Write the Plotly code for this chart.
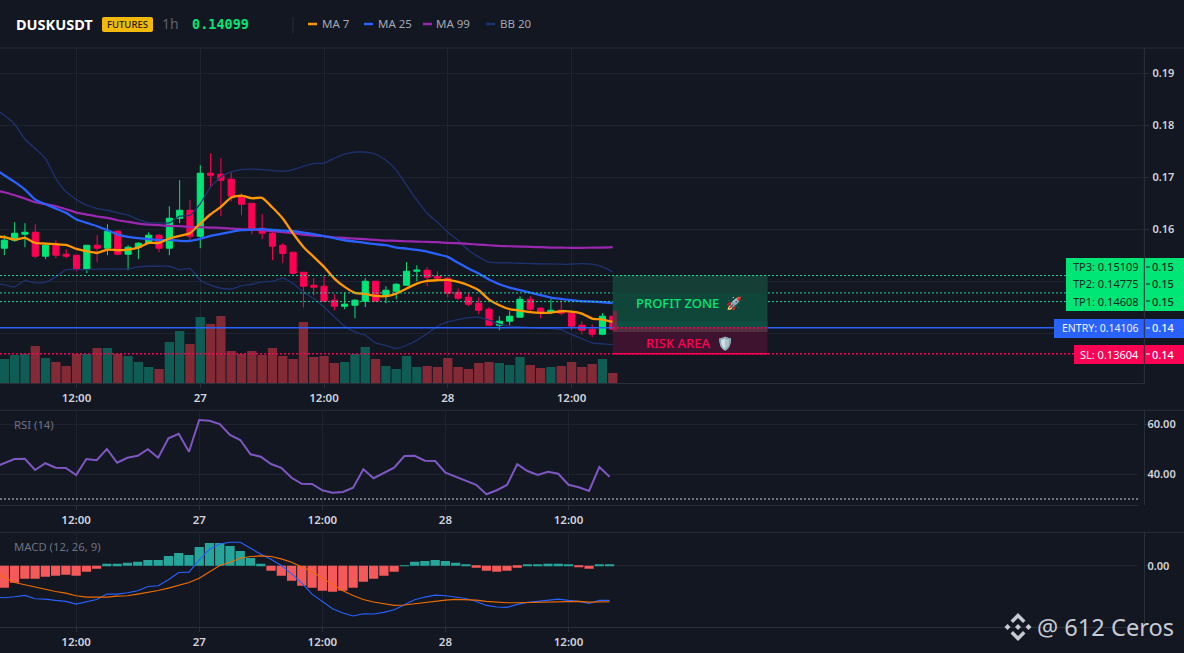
import plotly.graph_objects as go

W, H = 1184, 653

# ---- tick labels -------------------------------------------------------
time_tick_index = [7, 19, 31, 43, 55]
time_tick_text = ["12:00", "27", "12:00", "28", "12:00"]
price_ticks = [0.14, 0.15, 0.16, 0.17, 0.18, 0.19]
price_tick_text = ["", "", "0.16", "0.17", "0.18", "0.19"]

# ---- trade levels ------------------------------------------------------
tp3, tp2, tp1, entry, sl = 0.15109, 0.14775, 0.14608, 0.14106, 0.13604

# ---- candles -----------------------------------------------------------
opens = [.15635,.15788,.15904,.15942,.15481,.15692,.15519,.15500,.15231,.15692,
         .15635,.15961,.15519,.15654,.15731,.15885,.15635,.16211,.16365,.15865,
         .17077,.17058,.16962,.16635,.16500,.16019,.15923,.15692,.15558,.15173,
         .14923,.14904,.14635,.14519,.14538,.14615,.15000,.14712,.14808,.14923,
         .15192,.15212,.15096,.15058,.14788,.14692,.14577,.14462,.14154,.14231,
         .14308,.14654,.14481,.14404,.14442,.14385,.14154,.14077,.13981,.14327]
highs = [.15885,.16135,.16115,.16096,.15712,.15788,.15615,.15500,.15692,.15885,
         .16096,.15981,.15692,.15750,.15942,.15904,.16442,.16942,.16558,.17231,
         .17462,.17365,.17096,.16692,.16500,.16288,.15961,.15731,.15558,.15173,
         .15058,.15096,.14750,.14788,.14654,.15058,.15000,.14904,.14962,.15365,
         .15308,.15269,.15192,.15077,.14865,.14769,.14692,.14500,.14327,.14423,
         .14712,.14712,.14500,.14654,.14635,.14423,.14231,.14173,.14385,.14327]
lows = [.15500,.15756,.15654,.15442,.15423,.15442,.15442,.15192,.15154,.15365,
        .15500,.15500,.15212,.15423,.15712,.15558,.15500,.16115,.15788,.15635,
        .16788,.16250,.16538,.16269,.15904,.15808,.15404,.15346,.15135,.14500,
        .14731,.14615,.14442,.14462,.14288,.14500,.14615,.14577,.14654,.14923,
        .15000,.14904,.15019,.14692,.14635,.14519,.14365,.14154,.14058,.14154,
        .14308,.14423,.14288,.14365,.14346,.14058,.13981,.13923,.13962,.14058]
closes = [.15788,.15923,.15942,.15481,.15692,.15500,.15481,.15231,.15692,.15635,
          .15961,.15519,.15654,.15731,.15885,.15635,.16211,.16365,.15865,.17077,
          .17038,.16942,.16635,.16481,.16000,.15923,.15673,.15532,.15154,.14904,
          .14885,.14615,.14519,.14558,.14635,.15000,.14615,.14827,.14942,.15192,
          .15212,.15077,.15058,.14769,.14673,.14558,.14442,.14154,.14231,.14327,
          .14654,.14462,.14404,.14442,.14385,.14135,.14058,.13981,.14327,.14077]
volumes = [73,85,88,112,76,64,52,88,88,106,106,88,82,64,49,43,124,157,118,199,
           178,202,97,88,97,85,106,82,73,184,79,82,61,64,88,109,73,52,43,82,
           49,52,49,76,49,43,61,64,61,55,79,55,46,49,52,64,49,58,73,31]

# ---- overlays (first value is the bar just left of the visible window) --
ma7 = [.15865,.15846,.15801,.15833,.15737,.15724,.15712,.15699,.15622,.15577,.15545,
       .15609,.15596,.15609,.15647,.15737,.15737,.15820,.15872,.15923,.16109,
       .16288,.16429,.16609,.16647,.16596,.16603,.16417,.16205,.15917,.15660,
       .15468,.15276,.15051,.14891,.14776,.14756,.14718,.14712,.14763,.14859,
       .14955,.15006,.15019,.15026,.14987,.14923,.14827,.14647,.14538,.14462,
       .14436,.14404,.14391,.14397,.14423,.14417,.14378,.14282,.14263,.14218]
ma25 = [.17167,.17038,.16910,.16763,.16570,.16481,.16397,.16314,.16186,.16122,.16058,
        .15981,.15897,.15853,.15827,.15808,.15788,.15795,.15776,.15776,.15814,
        .15872,.15910,.15949,.15981,.15994,.16000,.15987,.15974,.15961,.15936,
        .15904,.15865,.15827,.15788,.15763,.15737,.15712,.15692,.15647,.15628,
        .15603,.15570,.15519,.15468,.15353,.15244,.15147,.15032,.14942,.14878,
        .14827,.14782,.14731,.14686,.14660,.14635,.14615,.14609,.14596,.14577]
ma99 = [.16750,.16711,.16654,.16590,.16519,.16481,.16442,.16385,.16320,.16282,.16244,
        .16218,.16173,.16141,.16109,.16090,.16077,.16064,.16058,.16045,.16038,
        .16032,.16026,.16013,.16000,.15994,.15981,.15961,.15942,.15923,.15897,
        .15878,.15865,.15846,.15833,.15820,.15808,.15795,.15782,.15776,.15769,
        .15763,.15756,.15750,.15737,.15731,.15718,.15705,.15692,.15679,.15673,
        .15667,.15660,.15654,.15647,.15647,.15641,.15641,.15647,.15647,.15654]
bb_upper = [.18327,.18192,.18019,.17731,.17551,.17359,.16974,.16718,.16570,.16461,.16397,
            .16365,.16314,.16269,.16186,.16128,.16122,.16122,.16250,.16269,.16493,
            .16814,.17006,.17102,.17147,.17154,.17147,.17128,.17115,.17147,.17211,
            .17263,.17269,.17365,.17442,.17481,.17481,.17442,.17327,.17135,.16846,
            .16558,.16308,.16135,.15942,.15788,.15596,.15468,.15365,.15353,.15353,
            .15346,.15340,.15333,.15333,.15327,.15327,.15340,.15327,.15276,.15179]
bb_lower = [.14968,.14936,.14891,.15013,.14968,.14981,.15083,.15224,.15224,.15224,.15231,
            .15237,.15231,.15237,.15276,.15288,.15288,.15288,.15224,.15244,.15019,
            .14923,.14865,.14853,.14910,.14942,.14987,.15000,.15058,.14955,.14795,
            .14667,.14506,.14314,.14135,.14026,.13962,.13814,.13763,.13705,.13769,
            .13865,.13994,.14135,.14218,.14263,.14301,.14308,.14250,.14173,.14135,
            .14122,.14109,.14096,.14090,.14071,.13974,.13897,.13814,.13795,.13782]

# ---- RSI ---------------------------------------------------------------
rsi = [42.7,44.3,46.0,46.1,41.6,44.3,42.5,42.4,39.6,46.0,45.5,50.0,44.5,46.5,47.3,
       49.9,46.5,54.3,56.1,48.9,61.6,61.3,60.0,55.6,53.6,47.9,46.9,44.0,42.5,38.5,
       36.1,36.0,33.5,32.5,32.8,34.5,41.9,38.3,40.4,42.5,47.2,47.3,45.3,45.2,40.5,
       38.9,37.2,35.7,31.9,33.5,35.6,43.9,41.2,39.6,40.9,40.1,35.7,34.7,33.2,42.8,38.9]

# ---- MACD --------------------------------------------------------------
macd_hist = [-66,-51,-39,-39,-33,-30,-27,-30,-18,-9,6,6,9,12,18,18,30,39,33,57,
             69,69,60,45,24,6,-15,-30,-45,-60,-66,-75,-78,-75,-66,-48,-39,-30,-18,1,
             12,15,18,15,9,3,-6,-15,-18,-15,-6,3,3,6,6,3,-3,-9,3,3]
macd_line = [-94,-96,-93,-89,-99,-100,-104,-107,-115,-107,-101,-85,-85,-81,-75,-62,-60,
             -42,-20,-19,18,50,66,71,71,53,35,20,1,-24,-52,-85,-107,-129,-142,-151,-144,
             -145,-140,-132,-117,-102,-94,-88,-90,-93,-98,-107,-119,-124,-125,-116,-110,
             -107,-103,-100,-104,-107,-113,-104,-104]
macd_signal = [-17,-35,-50,-57,-64,-70,-77,-82,-90,-94,-95,-94,-91,-90,-85,-80,-74,-67,
               -58,-50,-37,-17,1,11,23,28,30,28,21,11,-2,-17,-37,-57,-75,-89,-101,-109,
               -115,-119,-118,-114,-109,-105,-103,-101,-101,-103,-107,-110,-111,-111,
               -110,-110,-109,-107,-107,-107,-109,-108,-108]

BG = "#131722"
GRID = "#1f232e"
BORDER = "#2a2e39"
UP, DOWN = "#00e676", "#ff0055"
VOL_UP, VOL_DOWN = "#0f5c55", "#842a36"
TXT = "#d1d4dc"
FONT = "Noto Sans"

XR = [-0.42, 110.54]
PX_PANE_R, SUB_PANE_R = 1144.3, 1138.3


def px(x):
    return x / W


def py(y):
    return 1 - y / H


idx = list(range(60))
idx_lead = list(range(-1, 60))

fig = go.Figure()
fig.add_bar(x=idx, y=volumes, xaxis="x", yaxis="y", width=0.9,
            marker=dict(color=[VOL_UP if c >= o else VOL_DOWN for o, c in zip(opens, closes)], line_width=0),
            hoverinfo="skip", showlegend=False)
fig.add_candlestick(x=idx, open=opens, high=highs, low=lows, close=closes, xaxis="x", yaxis="y2",
                    increasing=dict(line=dict(color=UP, width=1), fillcolor=UP),
                    decreasing=dict(line=dict(color=DOWN, width=1), fillcolor=DOWN),
                    whiskerwidth=0, showlegend=False)
for vals, col, w in [(bb_upper, "#1e3270", 1.3), (bb_lower, "#1e3270", 1.3), (ma99, "#9c27b0", 2.2),
                     (ma25, "#2962ff", 2.3), (ma7, "#ff9800", 2.3)]:
    fig.add_scatter(x=idx_lead, y=vals, mode="lines", xaxis="x", yaxis="y2",
                    line=dict(color=col, width=w, shape="spline", smoothing=0.5), hoverinfo="skip", showlegend=False)
fig.add_scatter(x=idx_lead, y=rsi, mode="lines", xaxis="x3", yaxis="y3",
                line=dict(color="#7e57c2", width=2), hoverinfo="skip", showlegend=False)
fig.add_bar(x=idx, y=macd_hist, xaxis="x4", yaxis="y4", width=0.9,
            marker=dict(color=["#26a69a" if v >= 0 else "#f55a5a" for v in macd_hist], line_width=0),
            hoverinfo="skip", showlegend=False)
fig.add_scatter(x=idx_lead, y=macd_line, mode="lines", xaxis="x4", yaxis="y4",
                line=dict(color="#2962ff", width=1.1), hoverinfo="skip", showlegend=False)
fig.add_scatter(x=idx_lead, y=macd_signal, mode="lines", xaxis="x4", yaxis="y4",
                line=dict(color="#ef6c00", width=1.1), hoverinfo="skip", showlegend=False)


def xaxis(right, anchor):
    return dict(domain=[0, px(right)], range=XR, anchor=anchor, tickmode="array",
                tickvals=time_tick_index, ticktext=time_tick_text, ticks="outside", ticklen=4,
                tickcolor=BORDER, showgrid=True, gridcolor=GRID, gridwidth=1, zeroline=False,
                showline=True, linecolor=BORDER, linewidth=1, rangeslider=dict(visible=False),
                tickfont=dict(family=FONT, size=11.5, color=TXT, weight=600), fixedrange=True)


def yaxis(top, bot, rng, standoff, **kw):
    d = dict(domain=[py(bot), py(top)], range=rng, side="right", ticks="outside", ticklen=4,
             tickcolor=BORDER, showgrid=True, gridcolor=GRID, gridwidth=1, zeroline=False,
             showline=True, linecolor=BORDER, linewidth=1,
             tickfont=dict(family=FONT, size=11, color=TXT, weight=600), ticklabelstandoff=standoff, fixedrange=True)
    d.update(kw)
    return d


shapes = []
ann = []


def line(x0, y0, x1, y1, color, width=1, dash="solid", xref="paper", yref="paper", layer="above"):
    shapes.append(dict(type="line", x0=x0, x1=x1, y0=y0, y1=y1, xref=xref, yref=yref, layer=layer,
                       line=dict(color=color, width=width, dash=dash)))


def rect(x0, y0, x1, y1, fill, xref="paper", yref="paper", opacity=1):
    shapes.append(dict(type="rect", x0=x0, x1=x1, y0=y0, y1=y1, xref=xref, yref=yref, layer="above",
                       fillcolor=fill, line_width=0, opacity=opacity))


def text(x, y, s, size=11, color=TXT, anchor="left", weight=400, family=FONT):
    nudge = {"left": -1, "right": 1, "center": 0}[anchor]
    ann.append(dict(x=px(x + nudge), y=py(y), xref="paper", yref="paper", text=s, showarrow=False, xanchor=anchor,
                    yanchor="middle", align=anchor,
                    font=dict(family=family, size=size, color=color, weight=weight), borderpad=0))


# pane borders that run the full width
for yy in (48, 410.3, 532.3):
    line(0, py(yy), 1, py(yy), BORDER, layer="below")

# trade levels
DOT = "2px,2px"
line(0, tp2, px(1066), tp2, "#26d99a", dash=DOT, yref="y2")
line(0, tp1, px(1066), tp1, "#26d99a", dash=DOT, yref="y2")
line(0, entry, px(1054), entry, "#2962ff", width=1.5, yref="y2")
line(0, sl, px(1074), sl, DOWN, width=1.5, dash=DOT, yref="y2")

# zones
Z0, Z1 = 59, 74
rect(Z0, tp3, Z1, entry, "#10463a", xref="x", yref="y2")
rect(Z0, tp3, Z1, tp2, "#153f36", xref="x", yref="y2")
rect(Z0, 0.14230, Z1, entry, "#0e4f41", xref="x", yref="y2")
rect(Z0, entry, Z1, sl, "#3e1330", xref="x", yref="y2")
rect(Z0, entry, Z1, 0.14025, "#52303f", xref="x", yref="y2")
rect(Z0, 0.14430, 59.4, 0.14050, DOWN, xref="x", yref="y2", opacity=0.4)
line(Z0, entry, Z1, entry, DOWN, width=1.5, dash=DOT, xref="x", yref="y2")
line(Z0, sl, Z1, sl, DOWN, width=1.5, xref="x", yref="y2")
line(0, tp3, px(1066), tp3, "#26d99a", dash=DOT, yref="y2")

text(636, 303, "PROFIT ZONE  🚀", 13, UP, weight=500)
text(646, 343, "RISK AREA  \U0001F6E1\uFE0F", 13, DOWN, weight=500)

# right-hand price tags
rect(px(1066), py(258), 1, py(311), UP)
rect(px(1054), py(319), 1, py(338), "#2962ff")
rect(px(1074), py(345), 1, py(364), DOWN)
line(px(PX_PANE_R), py(48), px(PX_PANE_R), py(383.3), BORDER)
for yy, label, tick, col, fs in [(267, "TP3: 0.15109", "0.15", "#0b2b20", 11), (284, "TP2: 0.14775", "0.15", "#0b2b20", 11),
                                 (301, "TP1: 0.14608", "0.15", "#0b2b20", 11), (328, "ENTRY: 0.14106", "0.14", "#eef2ff", 10.5),
                                 (354, "SL: 0.13604", "0.14", "#ffffff", 11)]:
    text(1139, yy, label, fs, col, anchor="right")
    text(1152, yy, tick, 11, col, weight=500)
    line(px(1146), py(yy), px(1150), py(yy), col)

# header
text(16, 24, "DUSKUSDT", 14.5, "#ffffff", weight=700)
shapes.append(dict(type="path", xref="paper", yref="paper", layer="above", fillcolor="#f0b90b", line_width=0,
                   path=" ".join([f"M{px(104)},{py(17)}", f"L{px(151)},{py(17)}", f"Q{px(153)},{py(17)} {px(153)},{py(19)}",
                                  f"L{px(153)},{py(30)}", f"Q{px(153)},{py(32)} {px(151)},{py(32)}",
                                  f"L{px(104)},{py(32)}", f"Q{px(102)},{py(32)} {px(102)},{py(30)}",
                                  f"L{px(102)},{py(19)}", f"Q{px(102)},{py(17)} {px(104)},{py(17)} Z"])))
text(127.5, 24.5, "FUTURES", 9.5, "#1a1a1a", anchor="center", weight=500)
text(162, 24, "1h", 14, "#5d606b")
text(192, 24, "0.14099", 13.5, UP, weight=700, family="DejaVu Sans Mono")
line(px(293), py(17), px(293), py(33), BORDER)
for x0, col, tx, label in [(308, "#ff9800", 322, "MA 7"), (364, "#2962ff", 378, "MA 25"),
                           (423, "#9c27b0", 436, "MA 99"), (486, "#1e3270", 500, "BB 20")]:
    line(px(x0), py(24), px(x0 + 9), py(24), col, width=2.5)
    text(tx, 24, label, 11.5, "#a5a8b3")

# indicator captions
text(14, 424, "RSI (14)", 11.3, "#6f7280")
text(14, 546, "MACD (12, 26, 9)", 11.3, "#6f7280")

# watermark: exchange mark and name
WM = "#c6cad3"
cx, cy = 1018, 627


def poly(points):
    d = "M" + " L".join(f"{px(cx + a)},{py(cy + b)}" for a, b in points) + " Z"
    shapes.append(dict(type="path", path=d, xref="paper", yref="paper", layer="above", fillcolor=WM, line_width=0))


poly([(0, -14), (7.5, -6.5), (5, -4), (0, -9), (-5, -4), (-7.5, -6.5)])
poly([(0, 14), (7.5, 6.5), (5, 4), (0, 9), (-5, 4), (-7.5, 6.5)])
poly([(-13.5, 0), (-10.5, -3), (-7.5, 0), (-10.5, 3)])
poly([(13.5, 0), (10.5, -3), (7.5, 0), (10.5, 3)])
poly([(0, -3), (3, 0), (0, 3), (-3, 0)])
text(1037, 627, "@ 612 Ceros", 23.6, WM)

# RSI lower guide
line(0, 30, px(SUB_PANE_R), 30, "#d1d4dc", dash=DOT, yref="y3")

fig.update_layout(
    width=W, height=H, margin=dict(l=0, r=0, t=0, b=0), paper_bgcolor=BG, plot_bgcolor=BG,
    barmode="overlay", boxgap=0.15, showlegend=False, hovermode=False, dragmode=False,
    xaxis=xaxis(PX_PANE_R, "y"),
    yaxis=yaxis(48, 383.3, [0, 1005], 1, showticklabels=False, ticks="", showgrid=False, showline=False),
    yaxis2=yaxis(48, 383.3, [0.13037, 0.19485], 1, overlaying="y", tickmode="array", tickvals=price_ticks,
                 ticktext=price_tick_text),
    xaxis3=xaxis(SUB_PANE_R, "y3"),
    yaxis3=yaxis(410.3, 505, [27.6, 65.48], -4, tickmode="array", tickvals=[40, 60], tickformat=".2f"),
    xaxis4=xaxis(SUB_PANE_R, "y4"),
    yaxis4=yaxis(532.3, 627, [-184, 101], -4, tickmode="array", tickvals=[0], tickformat=".2f"),
    shapes=shapes, annotations=ann,
)

fig.write_html("out.html", config=dict(displayModeBar=False),
               post_script="document.body.style.margin='0';document.body.style.overflow='hidden';"
                           f"document.body.style.background='{BG}';")
